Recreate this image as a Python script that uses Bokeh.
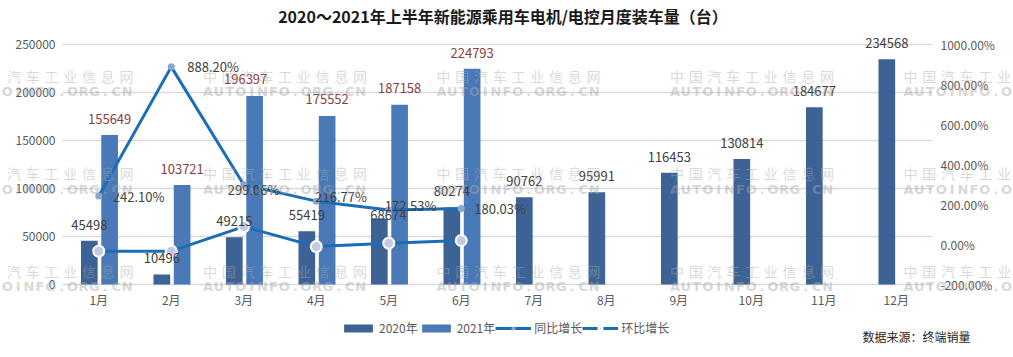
from bokeh.plotting import figure
from bokeh.models import (ColumnDataSource, Range1d, LinearAxis, FixedTicker,
                          NumeralTickFormatter, PrintfTickFormatter, CustomJSTickFormatter,
                          Label, LabelSet, Legend, LegendItem)
from bokeh.transform import dodge
from bokeh.core.properties import value
from bokeh.embed import file_html
from bokeh.resources import INLINE

# ---------------- data ----------------
months = ["1月", "2月", "3月", "4月", "5月", "6月", "7月", "8月", "9月", "10月", "11月", "12月"]
sales_2020 = [45498, 10496, 49215, 55419, 68674, 80274, 90762, 95991, 116453, 130814, 184677, 234568]
sales_2021 = [155649, 103721, 196397, 175552, 187158, 224793]
yoy_growth = [242.10, 888.20, 299.06, 216.77, 172.53, 180.03]      # 同比增长 %
mom_growth = [-33.6, -33.4, 89.4, -10.6, 6.6, 20.1]                # 环比增长 %
left_ticks = [0, 50000, 100000, 150000, 200000, 250000]
right_ticks = [-200, 0, 200, 400, 600, 800, 1000]

# label fine placement (screen px), kept apart from the data
dx_2020 = [0, 0, 0, 0, 9, 0, 0, 0, 0, 0, 0, 0]
dy_2020 = [-16, -16, -16, -16, -4, -16, -16, -16, -16, -16, -16, -16]
dx_2021 = [0, 0, -9, 0, 0, 0]
dy_2021 = [-16, -16, -17, -17, -17, -16]
dx_yoy = [14, 16, -16, -1, -4, 13]
dy_yoy = [0, 0, 5, -5, -4, 0]

FONT = "Noto Sans CJK SC"
C2020 = "#3D6296"
C2021 = "#4A79B7"
CLINE = "#1B6EB5"
TXT = "#595959"

# ---------------- layout geometry (pixels) ----------------
W, H = 1013, 357
PLOT_L, PLOT_R, PLOT_T, PLOT_B = 62, 932, 44, 284     # value area: 0..250000 / -200..1000 %
n = len(months)
ux = (PLOT_R - PLOT_L) / n                      # px per month
uy = (left_ticks[-1] - left_ticks[0]) / (PLOT_B - PLOT_T)
up = (right_ticks[-1] - right_ticks[0]) / (PLOT_B - PLOT_T)

x_rng = Range1d(-PLOT_L / ux, (W - PLOT_L) / ux)
y_rng = Range1d(left_ticks[0] - (H - PLOT_B) * uy, left_ticks[-1] + PLOT_T * uy)
p_rng = Range1d(right_ticks[0] - (H - PLOT_B) * up, right_ticks[-1] + PLOT_T * up)

p = figure(width=W, height=H, x_range=x_rng, y_range=y_rng, output_backend="svg",
           toolbar_location=None, x_axis_location=None, y_axis_location=None,
           min_border=0, background_fill_color="white", border_fill_color="white")
p.outline_line_color = None
p.xgrid.visible = False
p.ygrid.visible = False
p.extra_y_ranges = {"pct": p_rng}

month_x = [i + 0.5 for i in range(n)]

# grid lines across the value area
p.segment(x0=0, x1=n, y0="y", y1="y", source=ColumnDataSource(dict(y=left_ticks)),
          line_color="#d9d9d9", line_width=1.5)

# axes
xa = LinearAxis(fixed_location=0, ticker=FixedTicker(ticks=month_x),
                formatter=CustomJSTickFormatter(args=dict(labels=months),
                                                code="return labels[Math.round(tick - 0.5)];"))
la = LinearAxis(fixed_location=0, ticker=FixedTicker(ticks=left_ticks),
                formatter=NumeralTickFormatter(format="0"))
ra = LinearAxis(fixed_location=n, y_range_name="pct", ticker=FixedTicker(ticks=right_ticks),
                formatter=PrintfTickFormatter(format="%.2f%%"))
for ax in (xa, la, ra):
    ax.axis_line_color = None
    ax.major_tick_line_color = None
    ax.minor_tick_line_color = None
    ax.major_tick_out = 0
    ax.major_tick_in = 0
    ax.minor_tick_out = 0
    ax.major_label_text_font = FONT
    ax.major_label_text_font_size = "12px"
    ax.major_label_text_color = TXT
xa.major_label_standoff = 6
la.major_label_standoff = 7
ra.major_label_standoff = 8
p.add_layout(xa, "below")
p.add_layout(la, "left")
p.add_layout(ra, "right")

# sources
s20 = ColumnDataSource(dict(x=month_x, v=sales_2020, t=[str(v) for v in sales_2020],
                            dx=dx_2020, dy=dy_2020))
s21 = ColumnDataSource(dict(x=month_x[:len(sales_2021)], v=sales_2021,
                            t=[str(v) for v in sales_2021], dx=dx_2021, dy=dy_2021))
sp = ColumnDataSource(dict(x=month_x[:len(yoy_growth)], yoy=yoy_growth, mom=mom_growth,
                           t=["%.2f%%" % v for v in yoy_growth], dx=dx_yoy, dy=dy_yoy))

r20 = p.vbar(x=dodge("x", -0.13), top="v", bottom=0, width=0.23, source=s20,
             fill_color=C2020, line_color=None)
r21 = p.vbar(x=dodge("x", 0.15), top="v", bottom=0, width=0.23, source=s21,
             fill_color=C2021, line_color=None)

l_yoy = p.line(x="x", y="yoy", source=sp, y_range_name="pct", line_color=CLINE, line_width=3)
l_mom = p.line(x="x", y="mom", source=sp, y_range_name="pct", line_color=CLINE, line_width=3)
m_yoy = p.scatter(x="x", y="yoy", source=sp, y_range_name="pct", size=7,
                  fill_color="#8DA7CC", line_color=None)
m_mom = p.scatter(x="x", y="mom", source=sp, y_range_name="pct", size=11,
                  fill_color="#C3CBE3", line_color="white", line_width=2)

p.text(x=dodge("x", -0.13), y="v", text="t", source=s20,
       x_offset="dx", y_offset="dy", text_align="center", text_baseline="middle",
       text_font=value(FONT), text_font_size="13px", text_color="#404040")
p.text(x=dodge("x", 0.15), y="v", text="t", source=s21,
       x_offset="dx", y_offset="dy", text_align="center", text_baseline="middle",
       text_font=value(FONT), text_font_size="13px", text_color="#8B4040")
p.text(x="x", y="yoy", text="t", source=sp, y_range_name="pct",
       x_offset="dx", y_offset="dy", text_align="left", text_baseline="middle",
       text_font=value(FONT), text_font_size="13px", text_color="#404040")

# watermark (screen coords: frame == whole canvas, origin bottom-left);
# characters that would fall across the canvas edge are left out
wx, wy, wt, lx, lyy, lt = [], [], [], [], [], []
for r in range(3):
    for c in range(5):
        left = -31 + 233.5 * c
        for k, ch in enumerate("中国汽车工业信息网"):
            cx = left + 7 + 18.75 * k
            if 8 <= cx <= W - 8:
                wx.append(cx)
                wy.append(H - (75 + 97.5 * r))
                wt.append(ch)
        for k, ch in enumerate("AUTOINFO.ORG.CN"):
            cx = left + 5 + 10.9 * k
            if 6 <= cx <= W - 6:
                lx.append(cx)
                lyy.append(H - (91 + 97.5 * r))
                lt.append(ch)
p.add_layout(LabelSet(x="x", y="y", text="t", x_units="screen", y_units="screen",
                      source=ColumnDataSource(dict(x=wx, y=wy, t=wt)),
                      text_align="center", text_baseline="middle", text_font=value(FONT),
                      text_font_size="14px", text_color="#a8a8a8", text_alpha=0.45))
p.add_layout(LabelSet(x="x", y="y", text="t", x_units="screen", y_units="screen",
                      source=ColumnDataSource(dict(x=lx, y=lyy, t=lt)),
                      text_align="center", text_baseline="middle", text_font=value("DejaVu Sans"),
                      text_font_style="bold", text_font_size="13px", text_color="#a8a8a8",
                      text_alpha=0.45))

# title and source note
p.add_layout(Label(x=502.5, y=H - 15, x_units="screen", y_units="screen",
                   text="2020～2021年上半年新能源乘用车电机/电控月度装车量（台）",
                   text_font=FONT, text_font_size="16px", text_font_style="bold",
                   text_color="#1a1a1a", text_align="center", text_baseline="middle"))
p.add_layout(Label(x=862, y=H - 336, x_units="screen", y_units="screen",
                   text="数据来源：终端销量", text_font=FONT, text_font_size="12px",
                   text_color="#262626", text_align="left", text_baseline="middle"))

legend = Legend(items=[LegendItem(label="2020年", renderers=[r20]),
                       LegendItem(label="2021年", renderers=[r21]),
                       LegendItem(label="同比增长", renderers=[l_yoy, m_yoy]),
                       LegendItem(label="环比增长", renderers=[l_mom, m_mom])],
                orientation="horizontal", location=(340, H - 336),
                padding=0, margin=0, spacing=0, label_standoff=3,
                glyph_width=36, glyph_height=10, label_height=16,
                label_text_font=FONT, label_text_font_size="12px", label_text_color=TXT,
                border_line_color=None, background_fill_alpha=0)
p.add_layout(legend)

open("out.html", "w").write(file_html(p, INLINE))
